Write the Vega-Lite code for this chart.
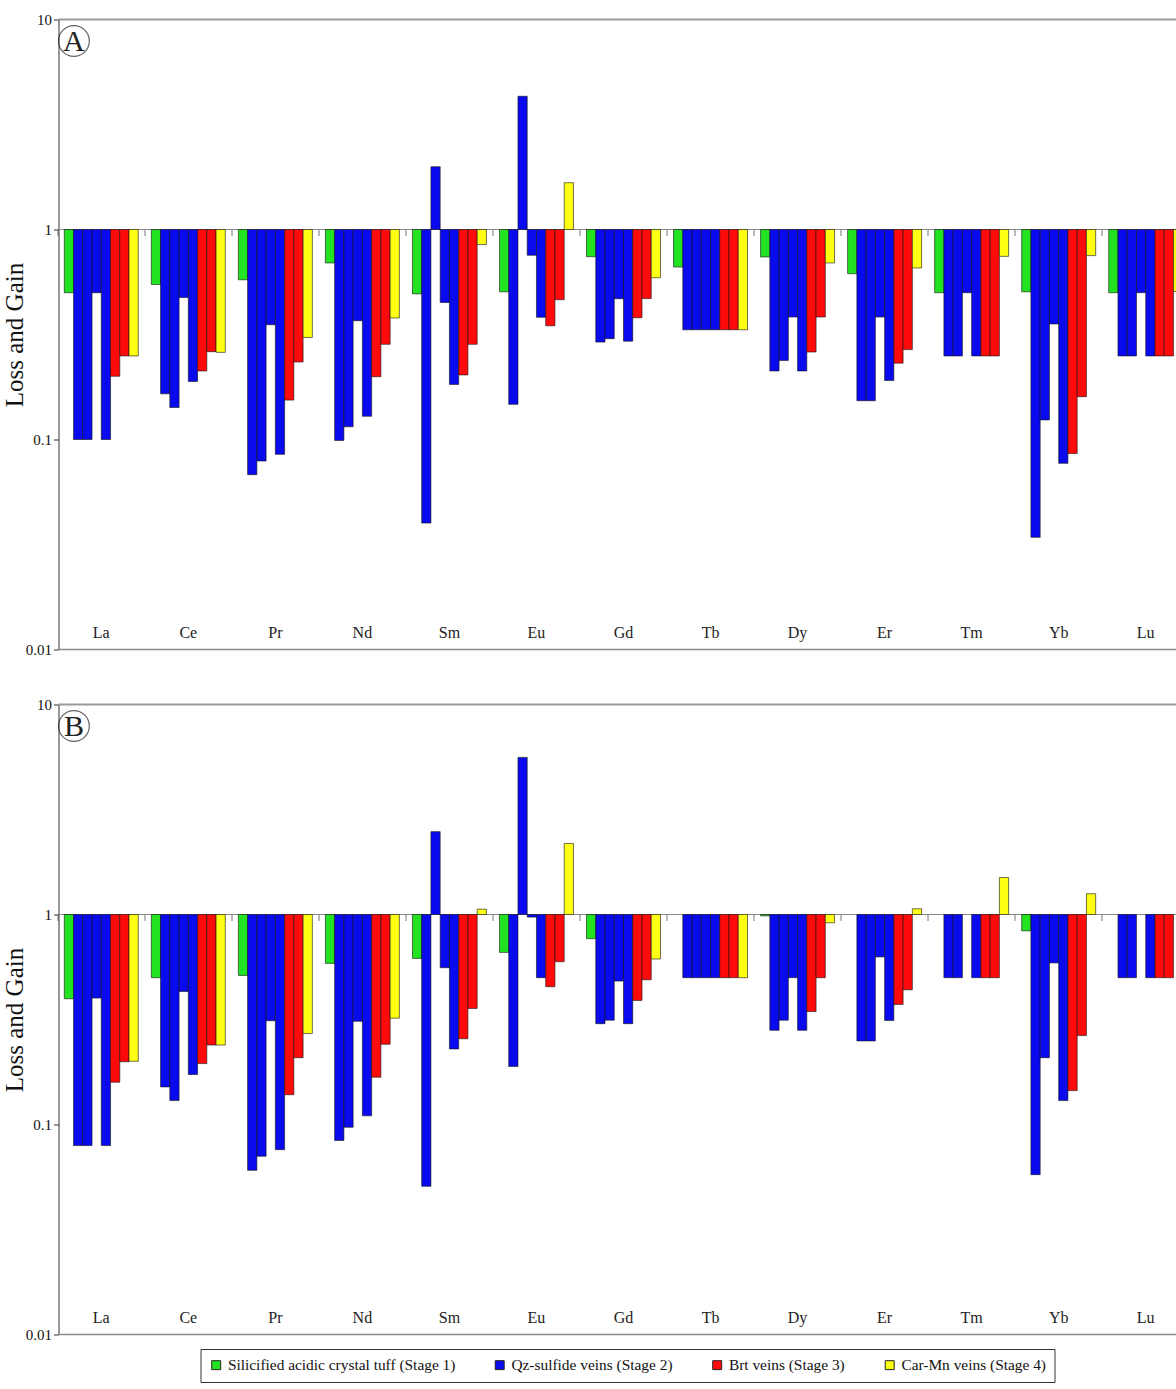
{
  "$schema": "https://vega.github.io/schema/vega-lite/v6.json",
  "background": "white",
  "padding": {"left": 1.5, "top": 12.5, "right": 0, "bottom": 0},
  "spacing": 55,
  "bounds": "flush",
  "config": {
    "font": "Liberation Serif",
    "view": {"stroke": null},
    "axis": {"grid": false, "labelFont": "Liberation Serif", "titleFont": "Liberation Serif", "labelColor": "#111", "titleColor": "#111"},
    "axisY": {"labelFontSize": 15, "labelPadding": 2, "tickSize": 5, "tickColor": "#333", "domainColor": "#333", "titleFontSize": 25, "titleFontWeight": "normal", "titlePadding": -2},
    "legend": {
      "orient": "none", "legendX": 142, "legendY": 1329.5, "direction": "horizontal", "title": null,
      "symbolType": "square", "symbolSize": 80, "symbolStrokeWidth": 1, "symbolStrokeColor": "#222",
      "labelFont": "Liberation Serif", "labelFontSize": 15.4, "labelColor": "#111", "labelLimit": 400,
      "columnPadding": 36.5, "padding": 8, "strokeColor": "#333"
    }
  },
  "resolve": {"scale": {"color": "shared"}},
  "datasets": {
    "A": [
      {"e":"La","s":1,"st":"1","v":0.5},{"e":"La","s":2,"st":"2","v":0.1},{"e":"La","s":3,"st":"2","v":0.1},{"e":"La","s":4,"st":"2","v":0.5},{"e":"La","s":5,"st":"2","v":0.1},{"e":"La","s":6,"st":"3","v":0.2},{"e":"La","s":7,"st":"3","v":0.25},{"e":"La","s":8,"st":"4","v":0.25},
      {"e":"Ce","s":1,"st":"1","v":0.547},{"e":"Ce","s":2,"st":"2","v":0.165},{"e":"Ce","s":3,"st":"2","v":0.142},{"e":"Ce","s":4,"st":"2","v":0.474},{"e":"Ce","s":5,"st":"2","v":0.189},{"e":"Ce","s":6,"st":"3","v":0.212},{"e":"Ce","s":7,"st":"3","v":0.262},{"e":"Ce","s":8,"st":"4","v":0.26},
      {"e":"Pr","s":1,"st":"1","v":0.576},{"e":"Pr","s":2,"st":"2","v":0.068},{"e":"Pr","s":3,"st":"2","v":0.079},{"e":"Pr","s":4,"st":"2","v":0.352},{"e":"Pr","s":5,"st":"2","v":0.085},{"e":"Pr","s":6,"st":"3","v":0.154},{"e":"Pr","s":7,"st":"3","v":0.234},{"e":"Pr","s":8,"st":"4","v":0.306},
      {"e":"Nd","s":1,"st":"1","v":0.693},{"e":"Nd","s":2,"st":"2","v":0.099},{"e":"Nd","s":3,"st":"2","v":0.115},{"e":"Nd","s":4,"st":"2","v":0.368},{"e":"Nd","s":5,"st":"2","v":0.129},{"e":"Nd","s":6,"st":"3","v":0.199},{"e":"Nd","s":7,"st":"3","v":0.284},{"e":"Nd","s":8,"st":"4","v":0.379},
      {"e":"Sm","s":1,"st":"1","v":0.494},{"e":"Sm","s":2,"st":"2","v":0.04},{"e":"Sm","s":3,"st":"2","v":1.99},{"e":"Sm","s":4,"st":"2","v":0.449},{"e":"Sm","s":5,"st":"2","v":0.183},{"e":"Sm","s":6,"st":"3","v":0.203},{"e":"Sm","s":7,"st":"3","v":0.284},{"e":"Sm","s":8,"st":"4","v":0.848},
      {"e":"Eu","s":1,"st":"1","v":0.505},{"e":"Eu","s":2,"st":"2","v":0.147},{"e":"Eu","s":3,"st":"2","v":4.31},{"e":"Eu","s":4,"st":"2","v":0.754},{"e":"Eu","s":5,"st":"2","v":0.382},{"e":"Eu","s":6,"st":"3","v":0.348},{"e":"Eu","s":7,"st":"3","v":0.463},{"e":"Eu","s":8,"st":"4","v":1.67},
      {"e":"Gd","s":1,"st":"1","v":0.742},{"e":"Gd","s":2,"st":"2","v":0.291},{"e":"Gd","s":3,"st":"2","v":0.302},{"e":"Gd","s":4,"st":"2","v":0.468},{"e":"Gd","s":5,"st":"2","v":0.294},{"e":"Gd","s":6,"st":"3","v":0.38},{"e":"Gd","s":7,"st":"3","v":0.469},{"e":"Gd","s":8,"st":"4","v":0.589},
      {"e":"Tb","s":1,"st":"1","v":0.663},{"e":"Tb","s":2,"st":"2","v":0.333},{"e":"Tb","s":3,"st":"2","v":0.333},{"e":"Tb","s":4,"st":"2","v":0.333},{"e":"Tb","s":5,"st":"2","v":0.333},{"e":"Tb","s":6,"st":"3","v":0.333},{"e":"Tb","s":7,"st":"3","v":0.333},{"e":"Tb","s":8,"st":"4","v":0.333},
      {"e":"Dy","s":1,"st":"1","v":0.74},{"e":"Dy","s":2,"st":"2","v":0.212},{"e":"Dy","s":3,"st":"2","v":0.238},{"e":"Dy","s":4,"st":"2","v":0.383},{"e":"Dy","s":5,"st":"2","v":0.212},{"e":"Dy","s":6,"st":"3","v":0.261},{"e":"Dy","s":7,"st":"3","v":0.383},{"e":"Dy","s":8,"st":"4","v":0.693},
      {"e":"Er","s":1,"st":"1","v":0.616},{"e":"Er","s":2,"st":"2","v":0.153},{"e":"Er","s":3,"st":"2","v":0.153},{"e":"Er","s":4,"st":"2","v":0.383},{"e":"Er","s":5,"st":"2","v":0.191},{"e":"Er","s":6,"st":"3","v":0.231},{"e":"Er","s":7,"st":"3","v":0.268},{"e":"Er","s":8,"st":"4","v":0.656},
      {"e":"Tm","s":1,"st":"1","v":0.5},{"e":"Tm","s":2,"st":"2","v":0.25},{"e":"Tm","s":3,"st":"2","v":0.25},{"e":"Tm","s":4,"st":"2","v":0.5},{"e":"Tm","s":5,"st":"2","v":0.25},{"e":"Tm","s":6,"st":"3","v":0.25},{"e":"Tm","s":7,"st":"3","v":0.25},{"e":"Tm","s":8,"st":"4","v":0.745},
      {"e":"Yb","s":1,"st":"1","v":0.505},{"e":"Yb","s":2,"st":"2","v":0.0342},{"e":"Yb","s":3,"st":"2","v":0.124},{"e":"Yb","s":4,"st":"2","v":0.355},{"e":"Yb","s":5,"st":"2","v":0.077},{"e":"Yb","s":6,"st":"3","v":0.0857},{"e":"Yb","s":7,"st":"3","v":0.16},{"e":"Yb","s":8,"st":"4","v":0.751},
      {"e":"Lu","s":1,"st":"1","v":0.5},{"e":"Lu","s":2,"st":"2","v":0.25},{"e":"Lu","s":3,"st":"2","v":0.25},{"e":"Lu","s":4,"st":"2","v":0.5},{"e":"Lu","s":5,"st":"2","v":0.25},{"e":"Lu","s":6,"st":"3","v":0.25},{"e":"Lu","s":7,"st":"3","v":0.25},{"e":"Lu","s":8,"st":"4","v":0.507}
    ],
    "B": [
      {"e":"La","s":1,"st":"1","v":0.397},{"e":"La","s":2,"st":"2","v":0.0794},{"e":"La","s":3,"st":"2","v":0.0794},{"e":"La","s":4,"st":"2","v":0.4},{"e":"La","s":5,"st":"2","v":0.0794},{"e":"La","s":6,"st":"3","v":0.159},{"e":"La","s":7,"st":"3","v":0.199},{"e":"La","s":8,"st":"4","v":0.2},
      {"e":"Ce","s":1,"st":"1","v":0.5},{"e":"Ce","s":2,"st":"2","v":0.151},{"e":"Ce","s":3,"st":"2","v":0.13},{"e":"Ce","s":4,"st":"2","v":0.43},{"e":"Ce","s":5,"st":"2","v":0.173},{"e":"Ce","s":6,"st":"3","v":0.195},{"e":"Ce","s":7,"st":"3","v":0.239},{"e":"Ce","s":8,"st":"4","v":0.239},
      {"e":"Pr","s":1,"st":"1","v":0.513},{"e":"Pr","s":2,"st":"2","v":0.0605},{"e":"Pr","s":3,"st":"2","v":0.0706},{"e":"Pr","s":4,"st":"2","v":0.312},{"e":"Pr","s":5,"st":"2","v":0.0759},{"e":"Pr","s":6,"st":"3","v":0.1386},{"e":"Pr","s":7,"st":"3","v":0.208},{"e":"Pr","s":8,"st":"4","v":0.271},
      {"e":"Nd","s":1,"st":"1","v":0.585},{"e":"Nd","s":2,"st":"2","v":0.084},{"e":"Nd","s":3,"st":"2","v":0.097},{"e":"Nd","s":4,"st":"2","v":0.31},{"e":"Nd","s":5,"st":"2","v":0.11},{"e":"Nd","s":6,"st":"3","v":0.168},{"e":"Nd","s":7,"st":"3","v":0.241},{"e":"Nd","s":8,"st":"4","v":0.321},
      {"e":"Sm","s":1,"st":"1","v":0.618},{"e":"Sm","s":2,"st":"2","v":0.0508},{"e":"Sm","s":3,"st":"2","v":2.48},{"e":"Sm","s":4,"st":"2","v":0.558},{"e":"Sm","s":5,"st":"2","v":0.229},{"e":"Sm","s":6,"st":"3","v":0.256},{"e":"Sm","s":7,"st":"3","v":0.357},{"e":"Sm","s":8,"st":"4","v":1.06},
      {"e":"Eu","s":1,"st":"1","v":0.66},{"e":"Eu","s":2,"st":"2","v":0.189},{"e":"Eu","s":3,"st":"2","v":5.6},{"e":"Eu","s":4,"st":"2","v":0.972},{"e":"Eu","s":5,"st":"2","v":0.5},{"e":"Eu","s":6,"st":"3","v":0.453},{"e":"Eu","s":7,"st":"3","v":0.596},{"e":"Eu","s":8,"st":"4","v":2.18},
      {"e":"Gd","s":1,"st":"1","v":0.767},{"e":"Gd","s":2,"st":"2","v":0.302},{"e":"Gd","s":3,"st":"2","v":0.314},{"e":"Gd","s":4,"st":"2","v":0.482},{"e":"Gd","s":5,"st":"2","v":0.302},{"e":"Gd","s":6,"st":"3","v":0.39},{"e":"Gd","s":7,"st":"3","v":0.489},{"e":"Gd","s":8,"st":"4","v":0.614},
      {"e":"Tb","s":2,"st":"2","v":0.5},{"e":"Tb","s":3,"st":"2","v":0.5},{"e":"Tb","s":4,"st":"2","v":0.5},{"e":"Tb","s":5,"st":"2","v":0.5},{"e":"Tb","s":6,"st":"3","v":0.5},{"e":"Tb","s":7,"st":"3","v":0.5},{"e":"Tb","s":8,"st":"4","v":0.5},
      {"e":"Dy","s":1,"st":"1","v":0.985},{"e":"Dy","s":2,"st":"2","v":0.281},{"e":"Dy","s":3,"st":"2","v":0.314},{"e":"Dy","s":4,"st":"2","v":0.5},{"e":"Dy","s":5,"st":"2","v":0.281},{"e":"Dy","s":6,"st":"3","v":0.345},{"e":"Dy","s":7,"st":"3","v":0.5},{"e":"Dy","s":8,"st":"4","v":0.913},
      {"e":"Er","s":2,"st":"2","v":0.25},{"e":"Er","s":3,"st":"2","v":0.25},{"e":"Er","s":4,"st":"2","v":0.628},{"e":"Er","s":5,"st":"2","v":0.313},{"e":"Er","s":6,"st":"3","v":0.373},{"e":"Er","s":7,"st":"3","v":0.438},{"e":"Er","s":8,"st":"4","v":1.065},
      {"e":"Tm","s":2,"st":"2","v":0.5},{"e":"Tm","s":3,"st":"2","v":0.5},{"e":"Tm","s":5,"st":"2","v":0.5},{"e":"Tm","s":6,"st":"3","v":0.5},{"e":"Tm","s":7,"st":"3","v":0.5},{"e":"Tm","s":8,"st":"4","v":1.5},
      {"e":"Yb","s":1,"st":"1","v":0.836},{"e":"Yb","s":2,"st":"2","v":0.0577},{"e":"Yb","s":3,"st":"2","v":0.208},{"e":"Yb","s":4,"st":"2","v":0.588},{"e":"Yb","s":5,"st":"2","v":0.13},{"e":"Yb","s":6,"st":"3","v":0.145},{"e":"Yb","s":7,"st":"3","v":0.265},{"e":"Yb","s":8,"st":"4","v":1.256},
      {"e":"Lu","s":2,"st":"2","v":0.5},{"e":"Lu","s":3,"st":"2","v":0.5},{"e":"Lu","s":5,"st":"2","v":0.5},{"e":"Lu","s":6,"st":"3","v":0.5},{"e":"Lu","s":7,"st":"3","v":0.5}
    ]
  },
  "vconcat": [
    {
      "width": 1119, "height": 630,
      "data": {"name": "A"},
      "layer": [
        {"data": {"values": [{}]}, "mark": {"type": "rule", "color": "#9a9a9a", "strokeWidth": 2}, "encoding": {"y": {"datum": 10, "type": "quantitative"}}},
        {"data": {"values": [{}]}, "mark": {"type": "rule", "color": "#8a8a8a", "strokeWidth": 1.5}, "encoding": {"y": {"datum": 0.01, "type": "quantitative"}}},
        {"data": {"values": [{}]}, "mark": {"type": "rule", "color": "#8a8a8a", "strokeWidth": 1}, "encoding": {"y": {"datum": 1, "type": "quantitative"}}},
        {
          "mark": {"type": "bar", "clip": true, "stroke": "#111", "strokeWidth": 0.8, "strokeOpacity": 0.75},
          "encoding": {
            "x": {"field": "e", "type": "nominal", "sort": ["La","Ce","Pr","Nd","Sm","Eu","Gd","Tb","Dy","Er","Tm","Yb","Lu"],
                  "scale": {"paddingInner": 0.15, "paddingOuter": 0.0666, "range": [0, 1130]},
                  "axis": {"orient": "bottom", "offset": -420, "domain": false, "ticks": true, "tickSize": 6, "tickColor": "#777", "bandPosition": -0.088, "labelPadding": 397, "labelBaseline": "middle", "labelAngle": 0, "labelFontSize": 16, "labelColor": "#222", "title": null}},
            "xOffset": {"field": "s", "type": "ordinal", "scale": {"domain": [1,2,3,4,5,6,7,8], "paddingInner": 0, "paddingOuter": 0}},
            "y": {"field": "v", "type": "quantitative", "scale": {"type": "log", "domain": [0.01, 10], "nice": false},
                  "axis": {"values": [0.01, 0.1, 1, 10], "format": "~g", "title": "Loss and Gain"}},
            "y2": {"datum": 1},
            "color": {"field": "st", "type": "nominal", "scale": {"domain": ["1","2","3","4"], "range": ["#22e222", "#0a0aee", "#ff0a0a", "#ffff14"]},
                      "legend": {"labelExpr": "datum.label == '1' ? 'Silicified acidic crystal tuff (Stage 1)' : datum.label == '2' ? 'Qz-sulfide veins (Stage 2)' : datum.label == '3' ? 'Brt veins (Stage 3)' : 'Car-Mn veins (Stage 4)'"}}
          }
        },
        {"data": {"values": [{"lab": "A"}]}, "mark": {"type": "point", "shape": "circle", "filled": false, "size": 950, "stroke": "#222", "strokeWidth": 1.2},
         "encoding": {"x": {"datum": "La", "bandPosition": 0.13}, "y": {"datum": 7.9, "type": "quantitative"}}},
        {"data": {"values": [{"lab": "A"}]}, "mark": {"type": "text", "font": "Liberation Serif", "fontSize": 30, "color": "#222", "dy": 1, "baseline": "middle"},
         "encoding": {"x": {"datum": "La", "bandPosition": 0.13}, "y": {"datum": 7.9, "type": "quantitative"}, "text": {"field": "lab"}}}
      ]
    },
    {
      "width": 1119, "height": 630,
      "data": {"name": "B"},
      "layer": [
        {"data": {"values": [{}]}, "mark": {"type": "rule", "color": "#9a9a9a", "strokeWidth": 2}, "encoding": {"y": {"datum": 10, "type": "quantitative"}}},
        {"data": {"values": [{}]}, "mark": {"type": "rule", "color": "#8a8a8a", "strokeWidth": 1.5}, "encoding": {"y": {"datum": 0.01, "type": "quantitative"}}},
        {"data": {"values": [{}]}, "mark": {"type": "rule", "color": "#8a8a8a", "strokeWidth": 1}, "encoding": {"y": {"datum": 1, "type": "quantitative"}}},
        {
          "mark": {"type": "bar", "clip": true, "stroke": "#111", "strokeWidth": 0.8, "strokeOpacity": 0.75},
          "encoding": {
            "x": {"field": "e", "type": "nominal", "sort": ["La","Ce","Pr","Nd","Sm","Eu","Gd","Tb","Dy","Er","Tm","Yb","Lu"],
                  "scale": {"paddingInner": 0.15, "paddingOuter": 0.0666, "range": [0, 1130]},
                  "axis": {"orient": "bottom", "offset": -420, "domain": false, "ticks": true, "tickSize": 6, "tickColor": "#777", "bandPosition": -0.088, "labelPadding": 397, "labelBaseline": "middle", "labelAngle": 0, "labelFontSize": 16, "labelColor": "#222", "title": null}},
            "xOffset": {"field": "s", "type": "ordinal", "scale": {"domain": [1,2,3,4,5,6,7,8], "paddingInner": 0, "paddingOuter": 0}},
            "y": {"field": "v", "type": "quantitative", "scale": {"type": "log", "domain": [0.01, 10], "nice": false},
                  "axis": {"values": [0.01, 0.1, 1, 10], "format": "~g", "title": "Loss and Gain"}},
            "y2": {"datum": 1},
            "color": {"field": "st", "type": "nominal", "scale": {"domain": ["1","2","3","4"], "range": ["#22e222", "#0a0aee", "#ff0a0a", "#ffff14"]},
                      "legend": {"labelExpr": "datum.label == '1' ? 'Silicified acidic crystal tuff (Stage 1)' : datum.label == '2' ? 'Qz-sulfide veins (Stage 2)' : datum.label == '3' ? 'Brt veins (Stage 3)' : 'Car-Mn veins (Stage 4)'"}}
          }
        },
        {"data": {"values": [{"lab": "B"}]}, "mark": {"type": "point", "shape": "circle", "filled": false, "size": 950, "stroke": "#222", "strokeWidth": 1.2},
         "encoding": {"x": {"datum": "La", "bandPosition": 0.13}, "y": {"datum": 7.9, "type": "quantitative"}}},
        {"data": {"values": [{"lab": "B"}]}, "mark": {"type": "text", "font": "Liberation Serif", "fontSize": 30, "color": "#222", "dy": 1, "baseline": "middle"},
         "encoding": {"x": {"datum": "La", "bandPosition": 0.13}, "y": {"datum": 7.9, "type": "quantitative"}, "text": {"field": "lab"}}}
      ]
    }
  ]
}
